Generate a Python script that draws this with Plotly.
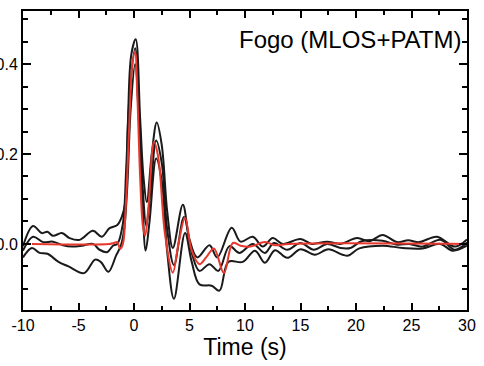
import plotly.graph_objects as go

# ---- data ----
upper_t = [-10, -9.1, -8.3, -7.8, -7.3, -6.5, -5.8, -4.9, -3.7, -2.9, -2.2, -1.5, -1.1, -0.8, -0.55, -0.25,
           0.15, 0.55, 0.85, 1.15, 1.6, 2.05, 2.5, 3.0, 3.5, 4.4, 5.0, 5.7, 6.8, 7.5, 8.8, 9.6, 10.7, 11.6,
           12.5, 13.4, 15.0, 16.0, 17.4, 18.6, 20.1, 21.2, 22.4, 23.7, 24.7, 25.7, 27.3, 28.9, 30]
upper_v = [-0.005, 0.04, 0.024, 0.027, 0.018, 0.024, 0.013, 0.009, 0.029, 0.016, 0.035, 0.042, 0.06, 0.09, 0.27, 0.42,
           0.455, 0.28, 0.15, 0.093, 0.2, 0.27, 0.22, 0.07, -0.009, 0.087, 0.01, -0.03, -0.003, -0.03, 0.036, 0.005, 0.016, -0.006,
           0.013, 0.0, 0.011, 0.0, 0.005, 0.0, 0.013, 0.006, 0.02, 0.004, 0.008, 0.004, 0.016, -0.006, 0.01]

mid_t = [-10, -9.1, -8.2, -7.3, -6.4, -5.6, -4.7, -3.7, -3.1, -2.4, -1.9, -1.5, -1.0, -0.7, -0.4, 0.1,
         0.5, 0.8, 1.1, 1.5, 2.0, 2.5, 3.0, 3.6, 4.5, 5.2, 5.9, 6.8, 7.6, 8.6, 9.5, 10.7, 11.8, 12.6,
         13.8, 15.0, 16.2, 17.4, 18.6, 19.5, 20.5, 22.4, 23.7, 24.8, 26.0, 27.6, 28.9, 30]
mid_v = [-0.015, 0.016, 0.004, 0.005, -0.003, -0.006, -0.004, 0.0, -0.013, -0.018, -0.004, 0.0, 0.045, 0.17, 0.33, 0.435,
         0.28, 0.12, 0.04, 0.12, 0.23, 0.18, 0.03, -0.047, 0.06, -0.02, -0.06, -0.045, -0.06, -0.005, -0.02, 0.0, -0.02, 0.002,
         -0.013, 0.002, -0.013, 0.0, -0.009, -0.009, 0.006, 0.007, -0.002, 0.0, -0.006, 0.009, -0.013, 0.003]

lower_t = [-10, -9.2, -8.5, -7.8, -6.8, -5.9, -4.5, -3.5, -3.0, -2.3, -1.6, -1.2, -0.9, -0.6, -0.3, 0.1,
           0.45, 0.75, 1.05, 1.4, 2.0, 2.5, 3.0, 3.6, 4.6, 5.2, 5.9, 7.0, 7.7, 8.5, 9.8, 10.9, 11.8, 12.7,
           13.8, 15.0, 16.3, 17.5, 18.8, 19.3, 20.3, 22.4, 24.2, 26.0, 27.6, 28.7, 30]
lower_v = [-0.03, -0.009, -0.02, -0.022, -0.04, -0.05, -0.065, -0.035, -0.04, -0.062, -0.025, -0.005, 0.03, 0.13, 0.30, 0.40,
           0.27, 0.10, -0.015, 0.05, 0.19, 0.14, -0.02, -0.122, 0.024, -0.04, -0.09, -0.093, -0.104, -0.04, -0.04, -0.015, -0.042, -0.014,
           -0.031, -0.012, -0.024, -0.012, -0.024, -0.026, -0.01, -0.004, -0.009, -0.01, 0.0, -0.015, -0.004]

model_t = [-9.2, -2.2, -1.8, -1.5, -1.25, -1.0, -0.75, -0.45, -0.15, 0.1, 0.3, 0.55, 0.8, 1.0, 1.3, 1.8,
           2.2, 2.8, 3.5, 4.0, 4.6, 5.2, 5.9, 6.5, 7.2, 8.1, 8.9, 9.6, 10.5, 11.8, 12.7, 14.0, 30]
model_v = [0.0, 0.0, 0.002, 0.004, -0.011, 0.0, 0.08, 0.25, 0.40, 0.427, 0.33, 0.15, 0.04, 0.018, 0.08, 0.227,
           0.19, 0.02, -0.064, 0.0, 0.058, -0.015, -0.045, -0.03, -0.01, -0.065, 0.002, -0.004, -0.006, 0.004, -0.003, 0.0, 0.0]

x_ticks = [-10, -5, 0, 5, 10, 15, 20, 25, 30]
x_ticklabels = ["-10", "-5", "0", "5", "10", "15", "20", "25", "30"]
y_ticks = [0.0, 0.2, 0.4]
y_ticklabels = ["0.0", "0.2", "0.4"]
title_text = "Fogo (MLOS+PATM)"
x_title = "Time (s)"

FONT = "Liberation Sans, Arial, Helvetica, sans-serif"
BLACK = "#1a1a1a"
RED = "#e8382d"

fig = go.Figure()
for tt, vv in [(upper_t, upper_v), (mid_t, mid_v), (lower_t, lower_v)]:
    fig.add_trace(go.Scatter(x=tt, y=vv, mode="lines",
                             line=dict(color=BLACK, width=2, shape="spline", smoothing=1.0),
                             showlegend=False, hoverinfo="skip"))
fig.add_trace(go.Scatter(x=model_t, y=model_v, mode="lines",
                         line=dict(color=RED, width=2, shape="spline", smoothing=1.0),
                         showlegend=False, hoverinfo="skip"))

fig.add_annotation(text=title_text, xref="paper", yref="paper", x=1, y=0.905,
                   xanchor="right", yanchor="middle", xshift=-3, showarrow=False,
                   font=dict(family=FONT, size=24, color="black"))

fig.update_layout(
    width=484, height=366,
    margin=dict(l=23, r=17, t=11, b=56),
    paper_bgcolor="white", plot_bgcolor="white",
    font=dict(family=FONT, color="black"),
)
fig.update_xaxes(
    range=[-10, 30], tickvals=x_ticks, ticktext=x_ticklabels,
    ticks="inside", ticklen=7, tickwidth=1.5, tickcolor="black",
    minor=dict(dtick=2.5, tick0=0, ticks="inside", ticklen=4, tickwidth=1.5, tickcolor="black"),
    showline=True, linewidth=2, linecolor="black", mirror="allticks",
    showgrid=False, zeroline=False,
    tickfont=dict(family=FONT, size=16, color="black"),
    title=dict(text=x_title, font=dict(family=FONT, size=23, color="black"), standoff=6),
    automargin=False,
)
fig.update_yaxes(
    range=[-0.147, 0.518], tickvals=y_ticks, ticktext=y_ticklabels,
    ticks="inside", ticklen=8, tickwidth=1.5, tickcolor="black",
    minor=dict(dtick=0.05, tick0=0, ticks="inside", ticklen=5, tickwidth=1.5, tickcolor="black"),
    showline=True, linewidth=2, linecolor="black", mirror="allticks",
    showgrid=False, zeroline=False,
    tickfont=dict(family=FONT, size=16, color="black"),
    automargin=False,
)

fig.write_html("out.html")
